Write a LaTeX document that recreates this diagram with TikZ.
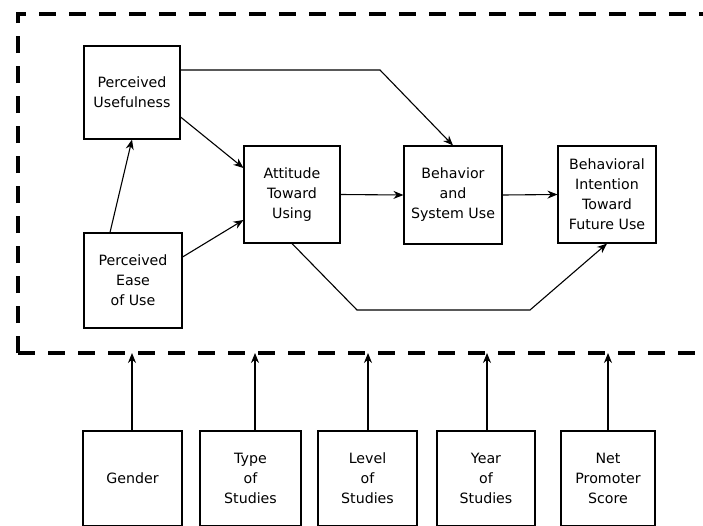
\documentclass[tikz,border=0pt]{standalone}
\usepackage{fontspec}
\setmainfont{DejaVu Sans}
\usetikzlibrary{arrows.meta}
\begin{document}
\begin{tikzpicture}[x=1pt,y=1pt,
  box/.style={draw,line width=1.1pt,inner sep=0pt,align=center,font=\fontsize{14.2}{20}\selectfont},
  arr/.style={line width=1.1pt,-{Stealth[length=10pt,width=8pt]}},
  frame/.style={line width=3.4pt,dash pattern=on 17pt off 13pt}]
\useasboundingbox (0,0) rectangle (703,-525);
\clip (0,0) rectangle (703,-525);
% dashed frame
\draw[frame] (18,-353) -- (18,-14) -- (740,-14);
\draw[frame] (18,-353) -- (740,-353);
% main nodes
\node[box,minimum width=96pt,minimum height=93pt] (pu) at (132,-92.5) {Perceived\\Usefulness};
\node[box,minimum width=96pt,minimum height=97pt] (att) at (292,-194.5) {Attitude\\Toward\\Using};
\node[box,minimum width=98pt,minimum height=95pt] (peu) at (133,-280.5) {Perceived\\Ease\\of Use};
\node[box,minimum width=98pt,minimum height=98pt] (beh) at (453,-195) {Behavior\\and\\System Use};
\node[box,minimum width=98pt,minimum height=97pt] (bi) at (607,-194.5) {Behavioral\\Intention\\Toward\\Future Use};
% bottom nodes
\node[box,minimum width=99pt,minimum height=95pt] (g) at (132.5,-478.5) {Gender};
\node[box,minimum width=101pt,minimum height=95pt] (t) at (250.5,-478.5) {Type\\of\\Studies};
\node[box,minimum width=99pt,minimum height=95pt] (l) at (367.5,-478.5) {Level\\of\\Studies};
\node[box,minimum width=98pt,minimum height=95pt] (y) at (486,-478.5) {Year\\of\\Studies};
\node[box,minimum width=94pt,minimum height=95pt] (n) at (608,-478.5) {Net\\Promoter\\Score};
\coordinate (f1) at (132,-353);
\coordinate (f2) at (255,-353);
\coordinate (f3) at (368,-353);
\coordinate (f4) at (487,-353);
\coordinate (f5) at (608,-353);
\draw[arr] (g.north -| f1) -- (f1);
\draw[arr] (t.north -| f2) -- (f2);
\draw[arr] (l.north -| f3) -- (f3);
\draw[arr] (y.north -| f4) -- (f4);
\draw[arr] (n.north -| f5) -- (f5);
% connectors
\coordinate (k1) at (380,-70);
\coordinate (k2) at (357,-310);
\coordinate (k3) at (530,-310);
\draw[arr] (peu.north -| 110,0) -- (pu.south -| 132,0);
\draw[arr] (pu.east |- 0,-117) -- (att.west |- 0,-168);
\draw[arr] (peu.east |- 0,-257) -- (att.west |- 0,-220);
\draw[arr] (att.east) -- (beh.west);
\draw[arr] (beh.east) -- (bi.west);
\draw[arr] (pu.east |- k1) -- (k1) -- (beh.north);
\draw[arr] (att.south) -- (k2) -- (k3) -- (bi.south);
\end{tikzpicture}
\end{document}
